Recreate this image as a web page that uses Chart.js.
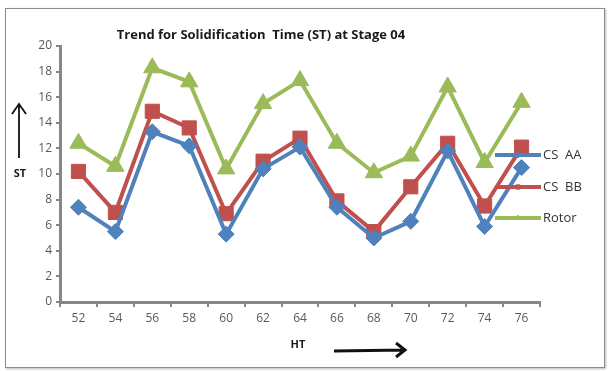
<!DOCTYPE html>
<html>
<head>
<meta charset="utf-8">
<script src="https://cdn.jsdelivr.net/npm/chart.js@4.4.0/dist/chart.umd.min.js"></script>
<style>
  html, body { margin: 0; padding: 0; background: #fff; }
  #wrap { position: relative; width: 610px; height: 371px; }
  #frame { position: absolute; left: 5px; top: 8px; width: 598px; height: 358px;
           border: 1px solid #8c8c8c; box-shadow: 1px 1px 2px #bbb; }
  #wrap canvas { position: absolute; left: 0; top: 0; }
</style>
</head>
<body>
<div id="wrap">
  <div id="frame"></div>
  <canvas id="stChart" width="610" height="371"></canvas>
</div>
<script>
const htLabels = ['52', '54', '56', '58', '60', '62', '64', '66', '68', '70', '72', '74', '76'];
const csAA = [7.4, 5.5, 13.3, 12.2, 5.3, 10.4, 12.1, 7.4, 5.0, 6.3, 11.8, 5.9, 10.5];
const csBB = [10.2, 7.0, 14.9, 13.6, 6.9, 11.0, 12.8, 7.9, 5.5, 9.0, 12.4, 7.5, 12.1];
const rotor = [12.4, 10.6, 18.3, 17.2, 10.4, 15.5, 17.3, 12.4, 10.1, 11.4, 16.8, 10.9, 15.6];
const seriesNames = ['CS  AA', 'CS  BB', 'Rotor'];

const blue = '#4F81BD';
const red = '#C0504D';
const green = '#9BBB59';

// title, axis names, arrows and the overlapping legend
const decorations = {
  id: 'decorations',
  afterDraw(chart) {
    const ctx = chart.ctx;
    ctx.save();
    ctx.fillStyle = '#1a1a1a';
    ctx.font = 'bold 13px "Open Sans", sans-serif';
    ctx.textAlign = 'center';
    ctx.textBaseline = 'middle';
    ctx.fillText('Trend for Solidification  Time (ST) at Stage 04', 261, 35);

    ctx.font = 'bold 11px "Open Sans", sans-serif';
    ctx.fillText('ST', 20, 174);
    ctx.fillText('HT', 298, 345);

    // arrows
    ctx.strokeStyle = '#111';
    ctx.lineWidth = 1.8;
    ctx.beginPath();
    ctx.moveTo(19, 158); ctx.lineTo(19, 104);
    ctx.moveTo(12, 114); ctx.lineTo(19, 104); ctx.lineTo(26, 114);
    ctx.stroke();
    ctx.lineWidth = 3;
    ctx.beginPath();
    ctx.moveTo(334, 351); ctx.lineTo(405, 350);
    ctx.moveTo(396, 343); ctx.lineTo(405, 350); ctx.lineTo(396, 357);
    ctx.stroke();

    // legend
    const ys = [155, 187, 218];
    ctx.textAlign = 'left';
    ctx.font = '13px "Open Sans", sans-serif';
    chart.data.datasets.forEach((ds, i) => {
      const y = ys[i];
      ctx.strokeStyle = ds.borderColor;
      ctx.lineWidth = 4;
      ctx.beginPath();
      ctx.moveTo(495, y); ctx.lineTo(541, y);
      ctx.stroke();
      ctx.lineWidth = 1;
      ctx.fillStyle = ds.backgroundColor;
      Chart.helpers.drawPoint(ctx, { pointStyle: ds.pointStyle, radius: 3, borderWidth: 1 }, 518, y);
      ctx.fillStyle = '#333';
      ctx.fillText(seriesNames[i], 543, y);
    });
    ctx.restore();
  }
};

function makeSet(label, data, color, style, radius) {
  return {
    label: label,
    data: data,
    borderColor: color,
    backgroundColor: color,
    borderWidth: 4,
    pointStyle: style,
    pointRadius: radius,
    pointHoverRadius: radius,
    pointBorderWidth: 1,
    tension: 0,
    clip: false
  };
}

const ctx = document.getElementById('stChart').getContext('2d');
new Chart(ctx, {
  type: 'line',
  data: {
    labels: htLabels,
    datasets: [
      makeSet(seriesNames[0], csAA, blue, 'rectRot', 8),
      makeSet(seriesNames[1], csBB, red, 'rect', 10),
      makeSet(seriesNames[2], rotor, green, 'triangle', 10)
    ]
  },
  options: {
    responsive: false,
    animation: false,
    layout: { padding: { left: 0, top: 46, right: 70, bottom: 0 } },
    plugins: {
      legend: { display: false },
      title: { display: false },
      tooltip: { enabled: false }
    },
    scales: {
      x: {
        offset: true,
        grid: { offset: true, drawOnChartArea: false, drawTicks: true, tickLength: 5, color: '#868686', lineWidth: 2 },
        border: { display: true, color: '#868686', width: 3 },
        ticks: { color: '#595959', font: { size: 12, family: '"Open Sans", sans-serif' }, padding: 4, maxRotation: 0 },
        afterFit(scale) { scale.height = 69; }
      },
      y: {
        min: 0,
        max: 20,
        ticks: { stepSize: 2, color: '#595959', font: { size: 12, family: '"Open Sans", sans-serif' }, padding: 4 },
        grid: { drawOnChartArea: false, drawTicks: true, tickLength: 4, color: '#868686', lineWidth: 2 },
        border: { display: true, color: '#868686', width: 3 },
        afterFit(scale) { scale.width = 60; }
      }
    }
  },
  plugins: [decorations]
});
</script>
</body>
</html>
